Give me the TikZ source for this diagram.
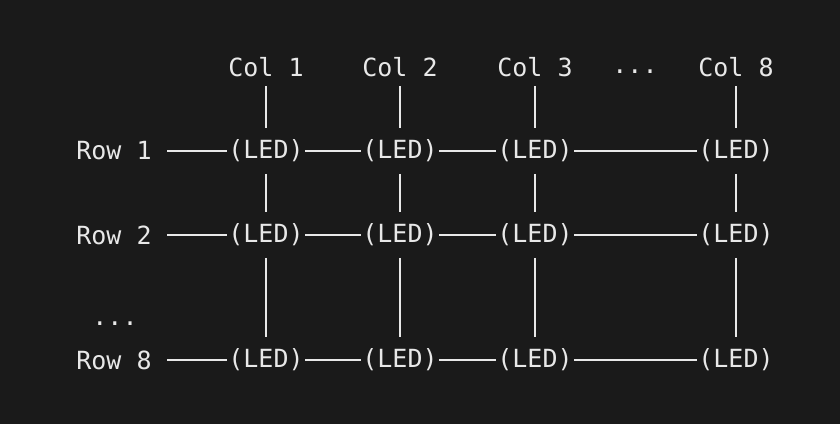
\documentclass[tikz,border=0pt]{standalone}
\usepackage{fontspec}
\setmonofont{DejaVu Sans Mono}
\definecolor{bg}{HTML}{1A1A1A}
\definecolor{fg}{HTML}{E8E8E8}
\begin{document}
\begin{tikzpicture}[x=1pt,y=1pt,line width=1.3pt,
  txt/.style={text=fg,font=\ttfamily\fontsize{25}{28}\selectfont,inner sep=1pt},
  wire/.style={draw=fg}]
\fill[bg] (0,0) rectangle (840,424);
\useasboundingbox (0,0) rectangle (840,424);
% column heads
\foreach \c/\x in {1/266,2/400,3/535,8/736}{\node[txt] (c\c) at (\x,357) {Col \c};};
\node[txt] (cdots) at (635,352) {...};
% rows of leds
\foreach \r/\y in {1/273,2/189,8/64}{
  \node[txt] (r\r) at (114,\y) {Row \r};
  \foreach \c/\x in {1/266,2/400,3/535,8/736}{\node[txt] (l\r\c) at (\x,\y) {(LED)};};
  \draw[wire,shorten <=14pt] (r\r) -- (l\r1);
  \draw[wire] (l\r1) -- (l\r2);
  \draw[wire] (l\r2) -- (l\r3);
  \draw[wire] (l\r3) -- (l\r8);
};
\node[txt] (rdots) at (115,100) {...};
% column wires
\foreach \c in {1,2,3,8}{
  \draw[wire,shorten <=8pt,shorten >=10pt] (c\c) -- (l1\c);
  \draw[wire,shorten <=10pt,shorten >=10pt] (l1\c) -- (l2\c);
  \draw[wire,shorten <=10pt,shorten >=10pt] (l2\c) -- (l8\c);
};
\end{tikzpicture}
\end{document}
